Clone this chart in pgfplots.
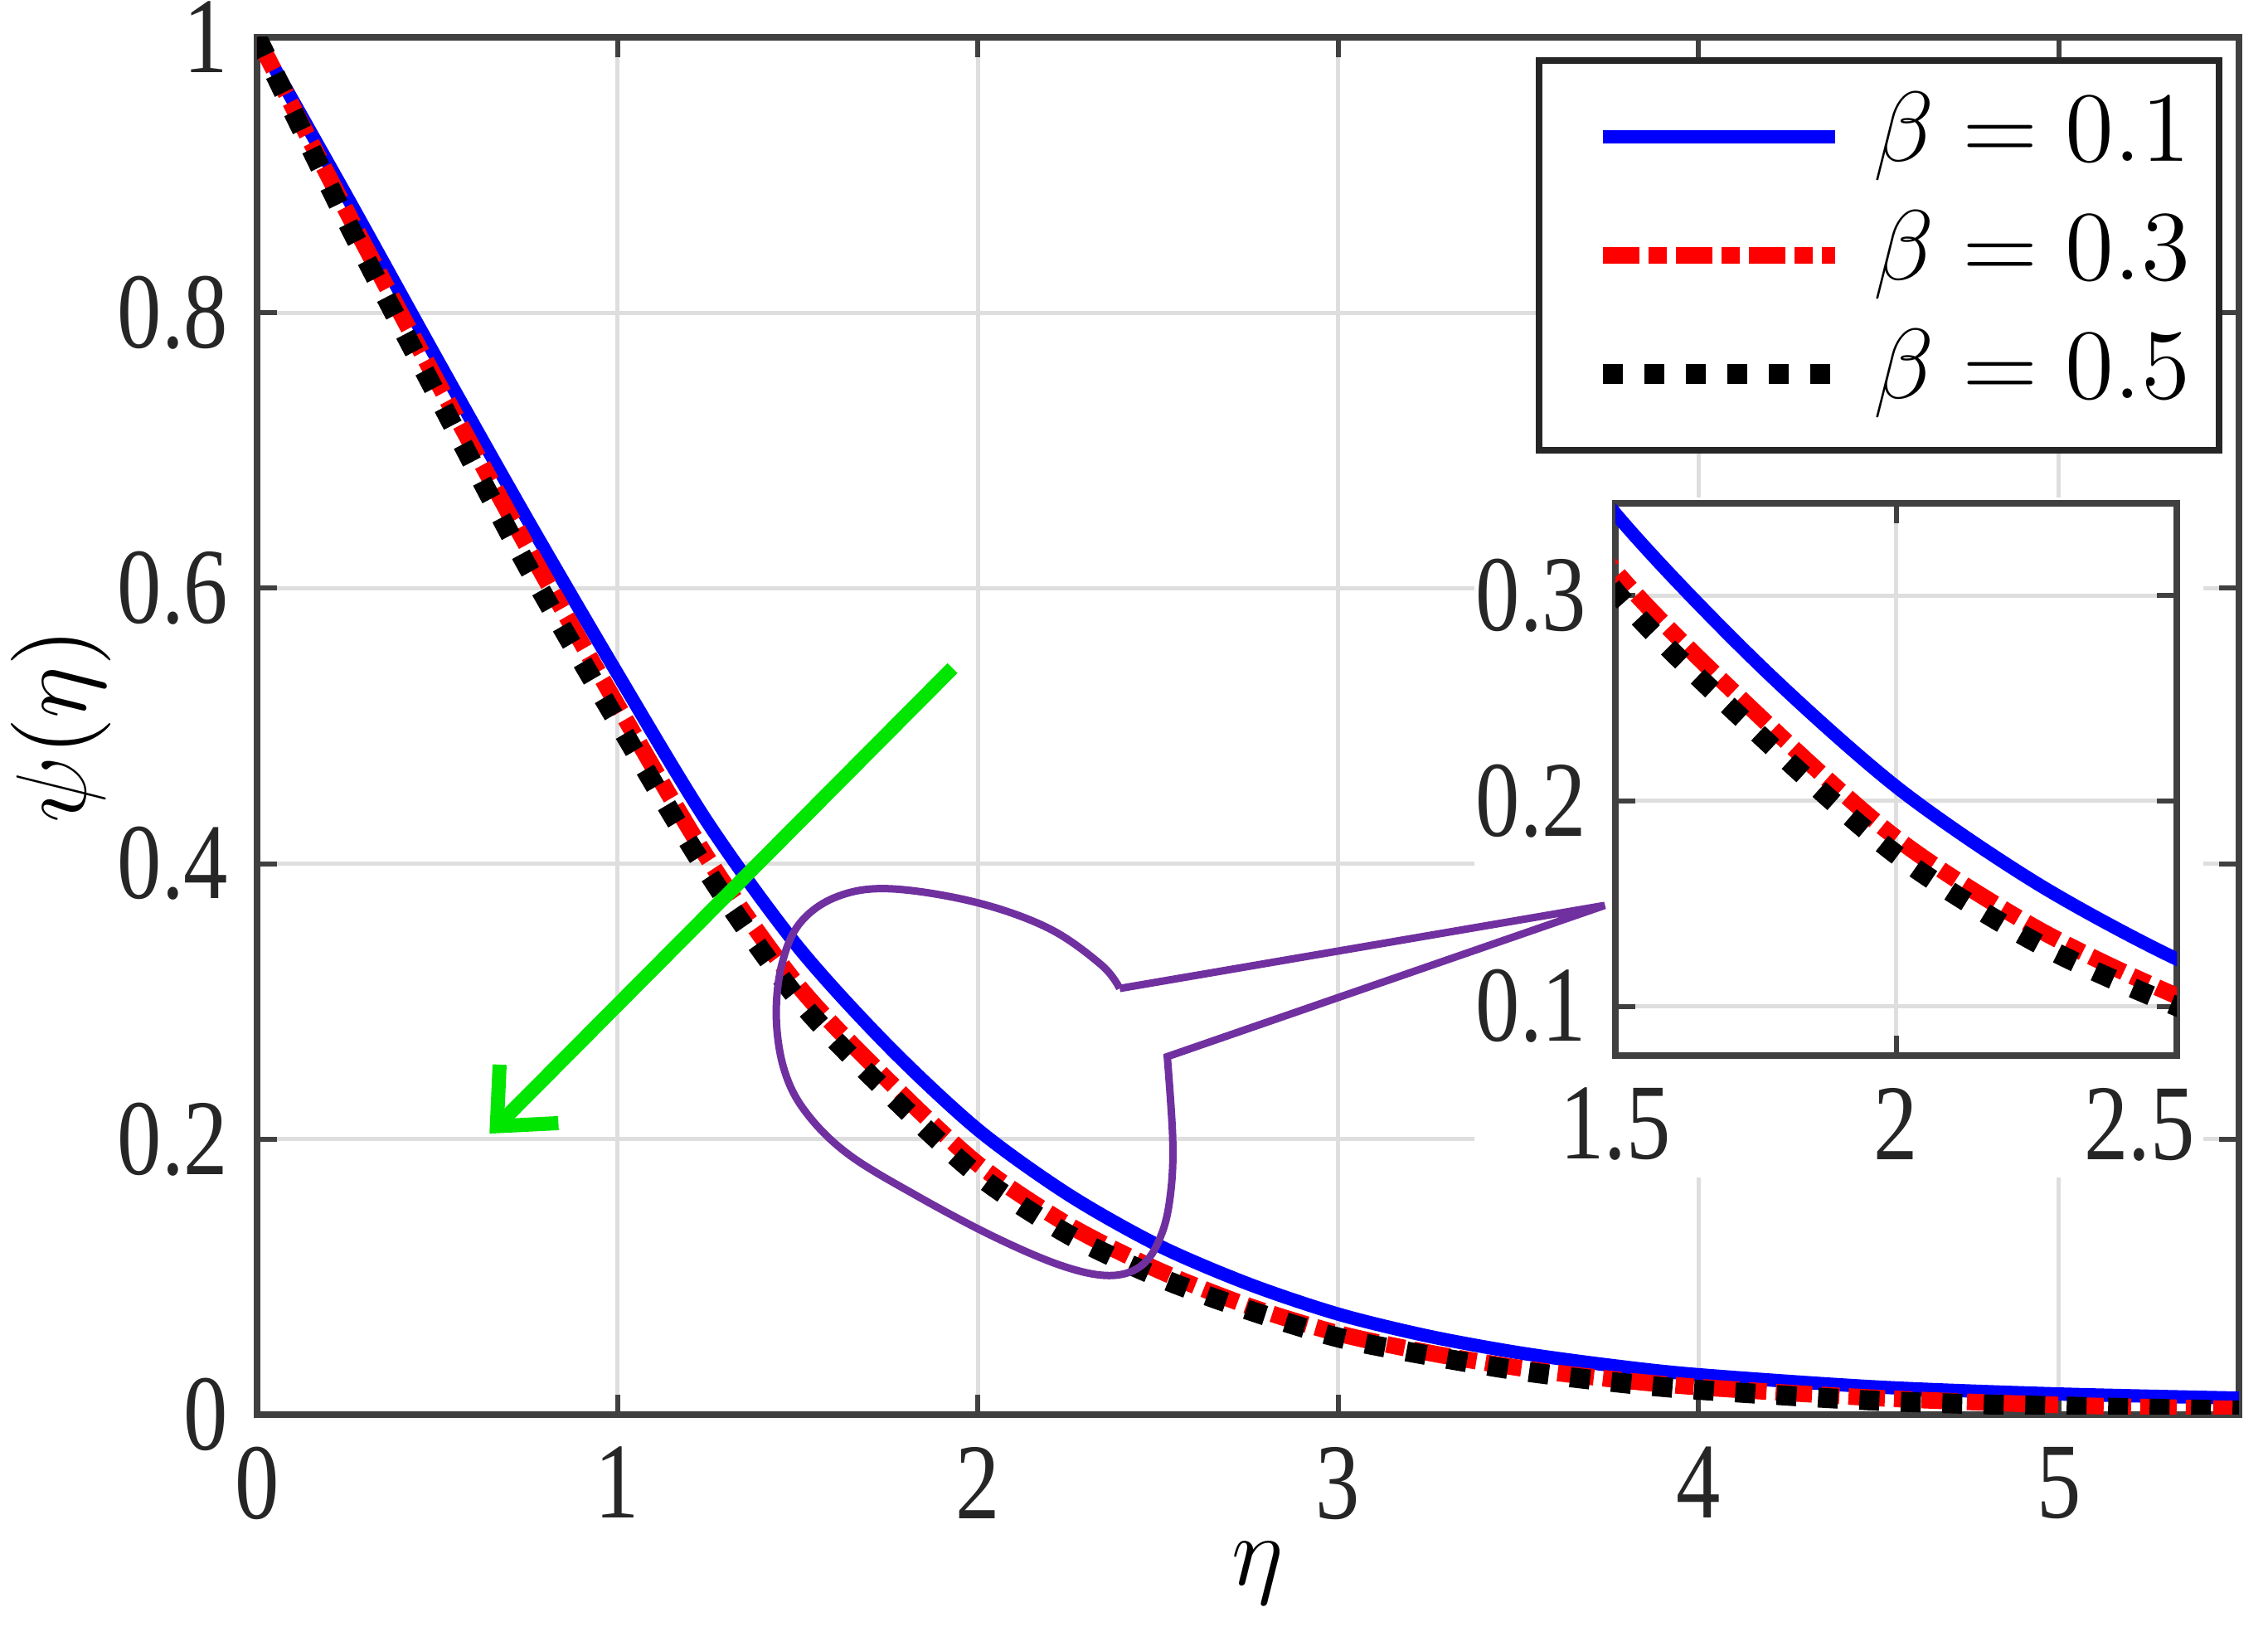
\documentclass[border=0pt]{standalone}
\usepackage{pgfplots}
\pgfplotsset{compat=1.18}
\usepackage{pgfplotstable}
\usepackage{fontspec}
\usetikzlibrary{arrows.meta,calc}
\newfontfamily\tickfont[FakeStretch=0.82]{Liberation Serif}
\definecolor{myblue}{RGB}{0,0,255}
\definecolor{myred}{RGB}{255,0,0}
\definecolor{mygreen}{RGB}{0,230,0}
\definecolor{mypurple}{RGB}{112,48,160}

\pgfplotstableread{
eta psi
0    1.000
0.25 0.884
0.5  0.766
0.75 0.650
1.0  0.538
1.25 0.430
1.5  0.340
1.75 0.268
2.0  0.207
2.25 0.160
2.5  0.123
2.75 0.095
3.0  0.073
3.25 0.057
3.5  0.045
3.75 0.036
4.0  0.029
4.5  0.020
5.0  0.015
5.5  0.012
}\blueTab

\pgfplotstableread{
eta psi
0    1.000
0.25 0.873
0.5  0.750
0.75 0.630
1.0  0.515
1.25 0.404
1.5  0.312
1.75 0.243
2.0  0.182
2.25 0.138
2.5  0.105
2.75 0.079
3.0  0.059
3.25 0.045
3.5  0.034
3.75 0.026
4.0  0.020
4.5  0.012
5.0  0.007
5.5  0.004
}\redTab

\pgfplotstableread{
eta psi
0    1.000
0.25 0.866
0.5  0.740
0.75 0.616
1.0  0.503
1.25 0.394
1.5  0.302
1.75 0.234
2.0  0.174
2.25 0.131
2.5  0.100
2.75 0.076
3.0  0.056
3.25 0.043
3.5  0.032
3.75 0.024
4.0  0.018
4.5  0.010
5.0  0.006
5.5  0.003
}\blackTab

\pgfplotsset{
  mystyle/.style={
    scale only axis,
    axis line style={black!75, line width=0.8pt},
    grid=major,
    major grid style={black!13, line width=0.5pt},
    tick style={black!75, line width=0.6pt},
    major tick length=2.4pt,
    tick align=inside,
    /pgf/number format/assume math mode=true,
    tick label style={font=\tickfont\fontsize{13}{15}\selectfont, inner sep=0pt, text=black!85},
    xticklabel style={yshift=-3.7pt},
    yticklabel style={xshift=-3.3pt},
  },
  c1/.style={myblue, line width=1.6pt, smooth},
  c2/.style={myred, line width=2pt, dash pattern=on 4.4pt off 1.1pt on 2.2pt off 1.1pt, smooth},
  c3/.style={black, line width=2.4pt, dash pattern=on 2.4pt off 2.6pt, smooth},
}

\begin{document}
\begin{tikzpicture}
\begin{axis}[mystyle, name=main,
  width=239pt, height=166.1pt,
  xmin=0, xmax=5.5, ymin=0, ymax=1,
  xtick={0,1,2,3,4,5}, ytick={0,0.2,0.4,0.6,0.8,1},
  xlabel={$\eta$}, ylabel={$\psi(\eta)$},
  every axis x label/.style={at={(axis description cs:0.505,0)}, anchor=center, yshift=-19.1pt, font=\fontsize{12.5}{14}\selectfont},
  every axis y label/.style={at={(axis description cs:-0.099,0.5)}, rotate=90, anchor=center, font=\fontsize{12}{14}\selectfont},
  legend style={draw=black!85, line width=0.8pt, fill=white,
    at={(rel axis cs:1,1)}, anchor=north east, xshift=-2.0pt, yshift=-2.4pt,
    inner xsep=0pt, inner ysep=3.2pt, row sep=2.3pt, column sep=0pt,
    font=\fontsize{12.5}{14}\selectfont,
    nodes={inner xsep=3.5pt, inner ysep=0pt, text height=9pt, text depth=3pt}},
  legend cell align=left,
  legend image code/.code={\path[draw=none] (0pt,0pt) -- (7.7pt,0pt); \draw[#1] (7.7pt,0pt) -- (35.7pt,0pt);},
]
\addplot[c1] table {\blueTab};
\addplot[c2] table {\redTab};
\addplot[c3] table {\blackTab};
\legend{$\beta = 0.1$, $\beta = 0.3$, $\beta = 0.5$}

\fill[white] (axis cs:3.379,0.172) rectangle (axis cs:5.4,0.666);

\draw[mypurple, line width=0.9pt, line join=miter]
  plot[smooth, tension=0.6] coordinates {
    (axis cs:2.394,0.3094) (axis cs:2.343,0.3265) (axis cs:2.196,0.3532)
    (axis cs:1.991,0.3722) (axis cs:1.756,0.3818) (axis cs:1.610,0.3761)
    (axis cs:1.507,0.3570) (axis cs:1.456,0.3265) (axis cs:1.441,0.2884)
    (axis cs:1.463,0.2503) (axis cs:1.522,0.2199) (axis cs:1.639,0.1894)
    (axis cs:1.830,0.1590) (axis cs:2.050,0.1285) (axis cs:2.240,0.1075)
    (axis cs:2.372,0.1010) (axis cs:2.460,0.1094) (axis cs:2.512,0.1323)
    (axis cs:2.536,0.1627) (axis cs:2.541,0.2008) (axis cs:2.526,0.2599)}
  -- (axis cs:3.740,0.3697) -- (axis cs:2.394,0.3094);

\draw[mygreen, line width=1.7pt, -{Straight Barb[length=5.5pt,width=10pt]}]
  (axis cs:1.93,0.542) -- (axis cs:0.645,0.204);
\end{axis}

\begin{axis}[mystyle,
  at={($(main.south west)+(163.8pt,43.3pt)$)}, anchor=south west,
  width=67.7pt, height=66.6pt,
  xmin=1.5, xmax=2.5, ymin=0.076, ymax=0.345,
  xtick={1.5,2,2.5}, ytick={0.1,0.2,0.3},
  xticklabels={1.5,2,{\kern-9pt 2.5}},
  axis background/.style={fill=white},
]
\addplot[c1] table {\blueTab};
\addplot[c2] table {\redTab};
\addplot[c3] table {\blackTab};
\end{axis}

\pgfresetboundingbox
\path[use as bounding box] ([shift={(-31pt,-27.3pt)}]main.south west) rectangle ([shift={(3.5pt,4.5pt)}]main.north east);
\end{tikzpicture}
\end{document}
